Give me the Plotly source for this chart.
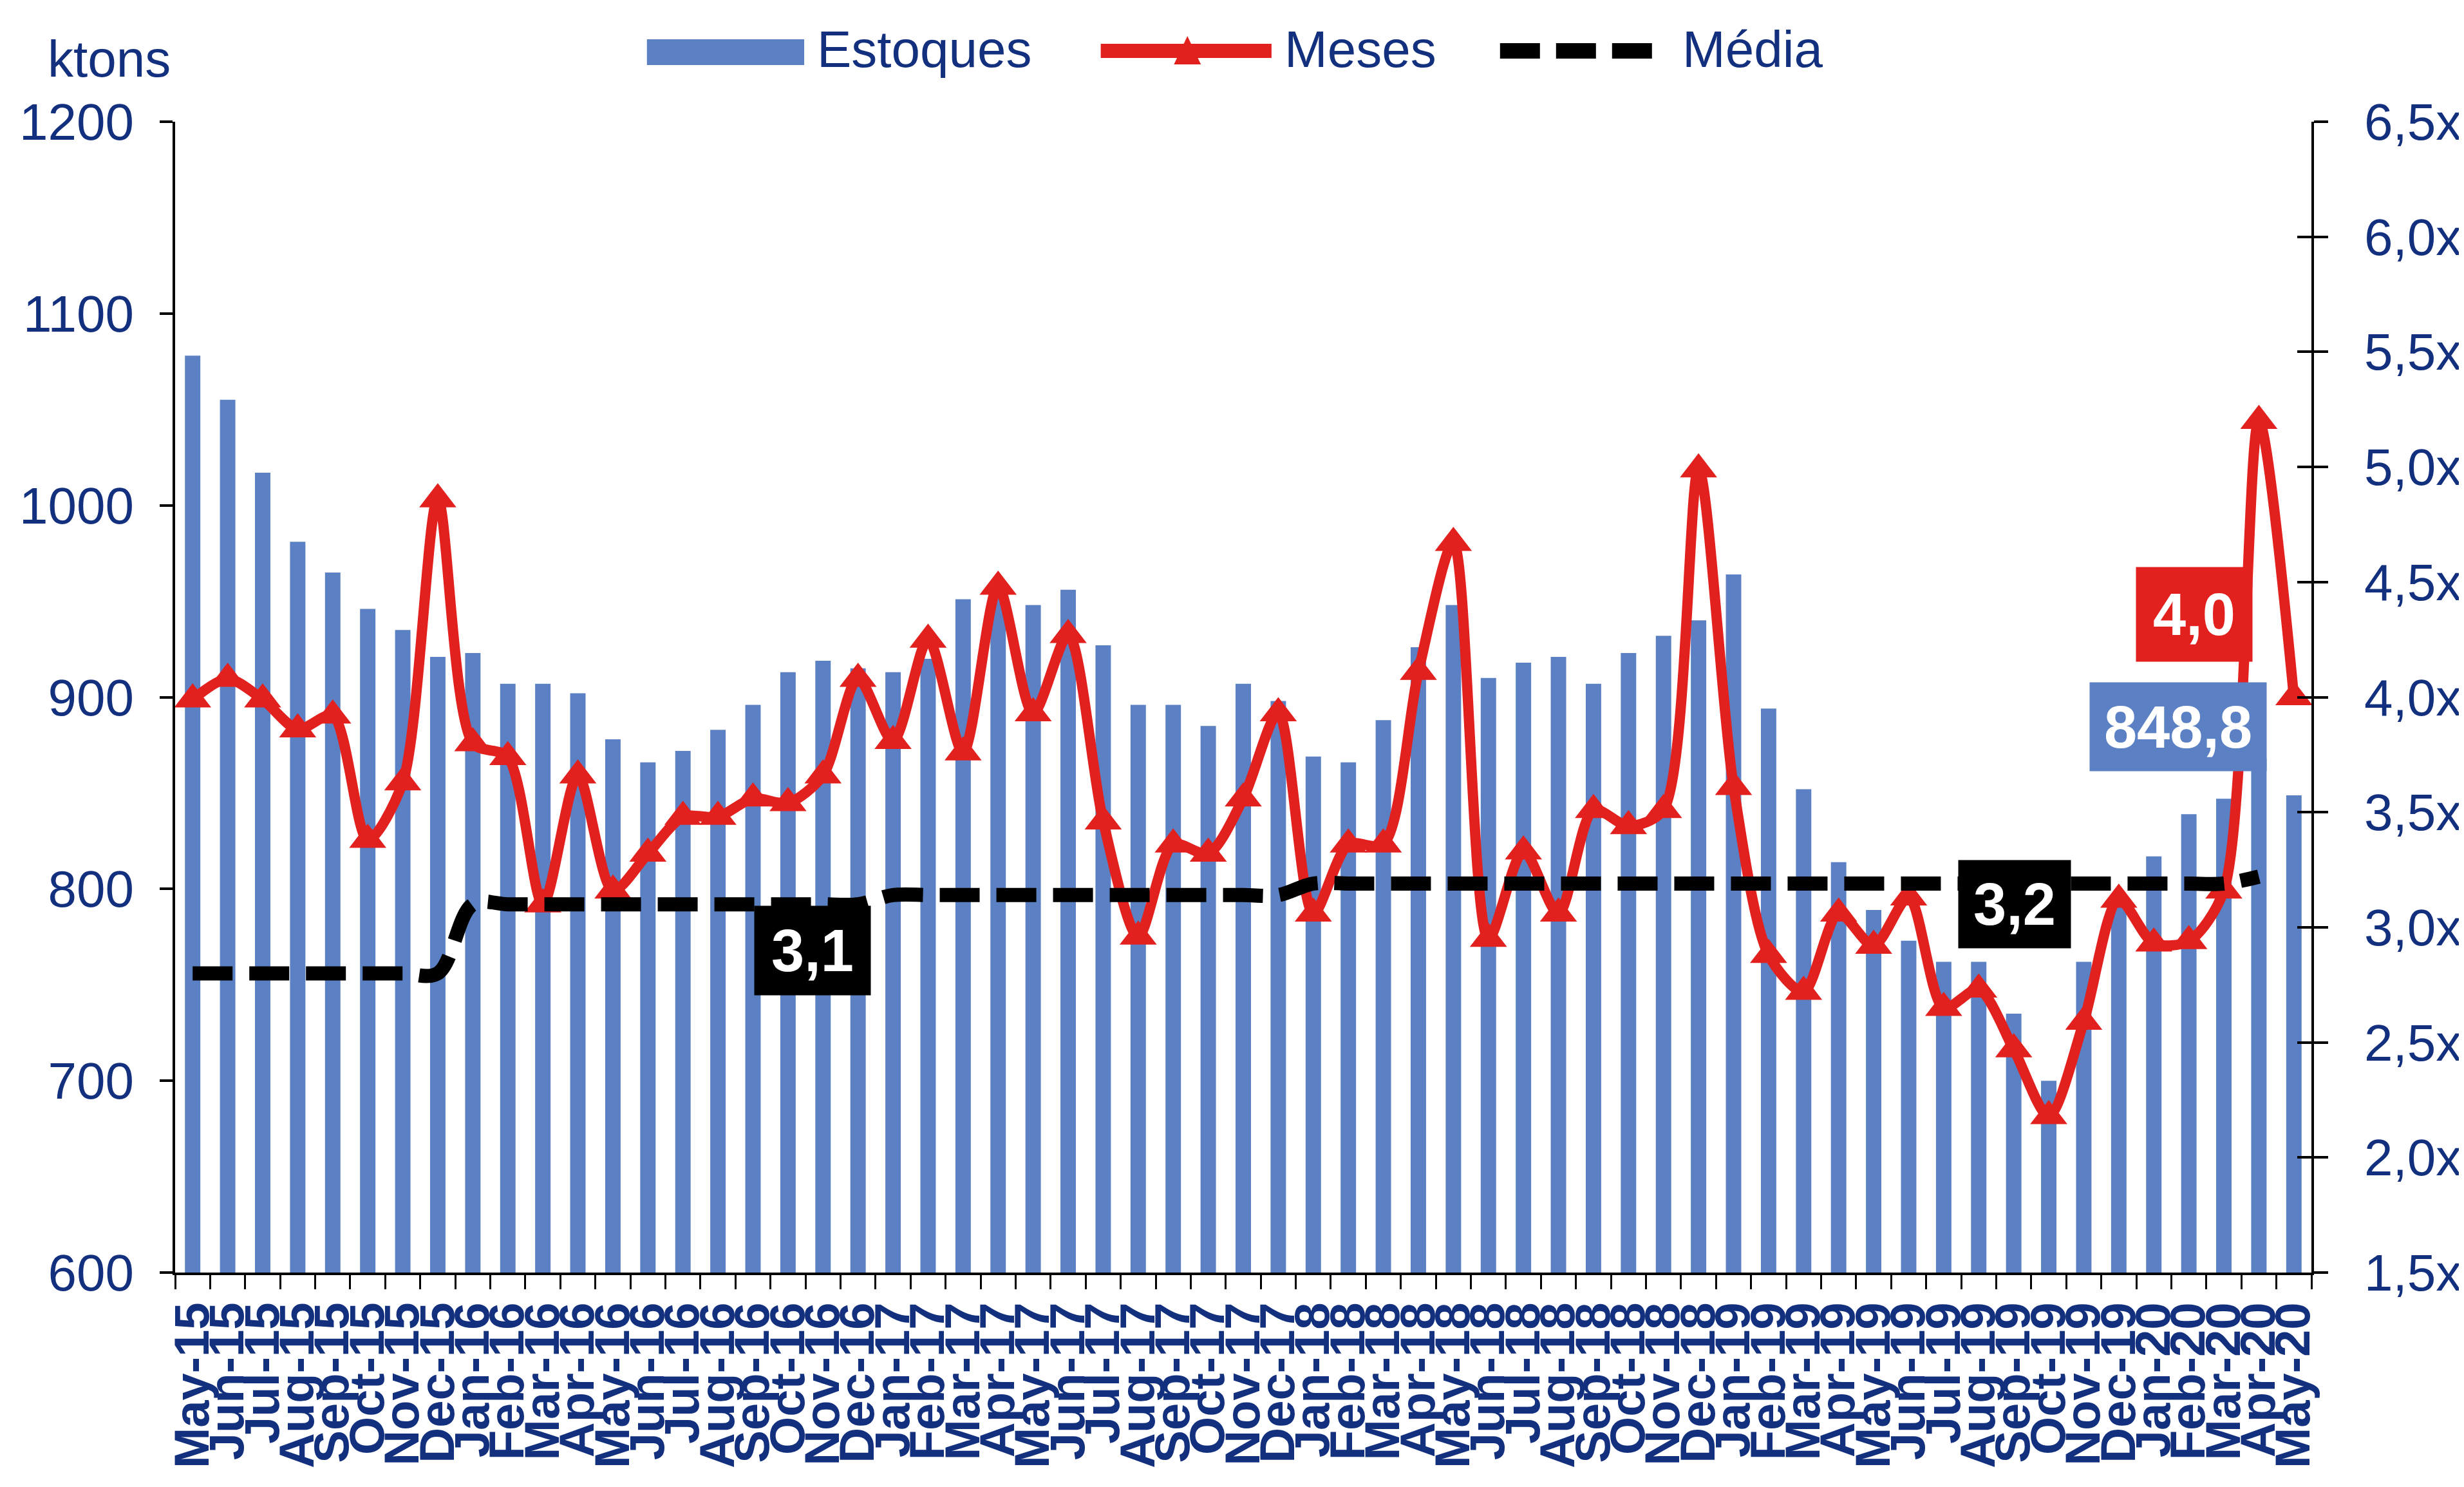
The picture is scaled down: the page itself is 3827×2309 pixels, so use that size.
import plotly.graph_objects as go

# categorias (meses)
months = ["May-15", "Jun-15", "Jul-15", "Aug-15", "Sep-15", "Oct-15", "Nov-15", "Dec-15",
          "Jan-16", "Feb-16", "Mar-16", "Apr-16", "May-16", "Jun-16", "Jul-16", "Aug-16",
          "Sep-16", "Oct-16", "Nov-16", "Dec-16", "Jan-17", "Feb-17", "Mar-17", "Apr-17",
          "May-17", "Jun-17", "Jul-17", "Aug-17", "Sep-17", "Oct-17", "Nov-17", "Dec-17",
          "Jan-18", "Feb-18", "Mar-18", "Apr-18", "May-18", "Jun-18", "Jul-18", "Aug-18",
          "Sep-18", "Oct-18", "Nov-18", "Dec-18", "Jan-19", "Feb-19", "Mar-19", "Apr-19",
          "May-19", "Jun-19", "Jul-19", "Aug-19", "Sep-19", "Oct-19", "Nov-19", "Dec-19",
          "Jan-20", "Feb-20", "Mar-20", "Apr-20", "May-20"]

# estoques (ktons) - eixo esquerdo
estoques = [1078, 1055, 1017, 981, 965, 946, 935, 921, 923, 907, 907, 902, 878, 866, 872, 883,
            896, 913, 919, 915, 913, 920, 951, 952, 948, 956, 927, 896, 896, 885, 907, 898,
            869, 866, 888, 926, 948, 910, 918, 921, 907, 923, 932, 940, 964, 894, 852, 814,
            789, 773, 762, 762, 735, 700, 762, 796, 817, 839, 847, 868, 848.8]

# meses de estoque - eixo direito
meses = [3.99, 4.08, 3.99, 3.86, 3.92, 3.38, 3.63, 4.86, 3.80, 3.74, 3.10, 3.66, 3.16, 3.32, 3.48, 3.48,
         3.56, 3.54, 3.66, 4.08, 3.81, 4.25, 3.76, 4.48, 3.93, 4.27, 3.46, 2.96, 3.36, 3.32, 3.56, 3.93,
         3.06, 3.36, 3.36, 4.11, 4.67, 2.95, 3.33, 3.06, 3.51, 3.44, 3.51, 4.99, 3.61, 2.88, 2.72, 3.06,
         2.92, 3.13, 2.65, 2.73, 2.47, 2.18, 2.59, 3.12, 2.93, 2.94, 3.16, 5.20, 4.00]

# média (vai até Apr-20)
media = [2.8, 2.8, 2.8, 2.8, 2.8, 2.8, 2.8, 2.8, 3.1, 3.1, 3.1, 3.1, 3.1, 3.1, 3.1, 3.1,
         3.1, 3.1, 3.1, 3.1, 3.14, 3.14, 3.14, 3.14, 3.14, 3.14, 3.14, 3.14, 3.14, 3.14, 3.14, 3.14,
         3.19, 3.19, 3.19, 3.19, 3.19, 3.19, 3.19, 3.19, 3.19, 3.19, 3.19, 3.19, 3.19, 3.19, 3.19, 3.19,
         3.19, 3.19, 3.19, 3.19, 3.19, 3.19, 3.19, 3.19, 3.19, 3.19, 3.19, 3.22]

right_vals = [1.5, 2.0, 2.5, 3.0, 3.5, 4.0, 4.5, 5.0, 5.5, 6.0, 6.5]
right_text = ["1,5x", "2,0x", "2,5x", "3,0x", "3,5x", "4,0x", "4,5x", "5,0x", "5,5x", "6,0x", "6,5x"]

BLUE = "#5B80C3"
RED = "#E2211F"
NAVY = "#13307F"
FONT = "Liberation Sans, Arial, sans-serif"

W, H = 3827, 2309
L, R, T, B = 264, 3592, 181, 1968


def px(x):
    # pixel -> paper (horizontal)
    return (x - L) / (R - L)


def py(y):
    # pixel -> paper (vertical)
    return (B - y) / (B - T)


fig = go.Figure()
fig.add_trace(go.Bar(x=months, y=estoques, name="Estoques", marker_color=BLUE, marker_line_width=0))
fig.add_trace(go.Scatter(x=months, y=meses, name="Meses", yaxis="y2", mode="lines+markers",
                         line=dict(color=RED, width=16, shape="spline", smoothing=0.8),
                         marker=dict(symbol="triangle-up", size=50, color=RED)))
fig.add_trace(go.Scatter(x=months[:len(media)], y=media, name="Média", yaxis="y2", mode="lines",
                         line=dict(color="black", width=22, dash="62px,26px", shape="spline", smoothing=1)))
# eixo extra so para os ticks internos do eixo direito
fig.add_trace(go.Scatter(x=[None], y=[None], yaxis="y3", showlegend=False, hoverinfo="skip"))

# caixas de rotulos
boxes = [
    ("3,1", 17.70, 2.90, "black", 180, 138),
    ("3,2", 52.03, 3.10, "black", 174, 136),
    (f"{meses[-1]:.1f}".replace(".", ","), 57.16, 4.36, RED, 180, 146),
    (f"{estoques[-1]:.1f}".replace(".", ","), 56.70, 3.87, BLUE, 274, 137),
]
annotations = []
for txt, xi, yv, col, bw, bh in boxes:
    annotations.append(dict(text=f"<b>{txt}</b>", x=xi, y=yv, xref="x", yref="y2", showarrow=False,
                            bgcolor=col, width=bw, height=bh, borderpad=0, align="center",
                            font=dict(family=FONT, size=92, color="white")))

annotations.append(dict(text="ktons", x=px(161), y=py(84), xref="paper", yref="paper", showarrow=False,
                        xanchor="center", yanchor="middle", font=dict(family=FONT, size=80, color=NAVY)))

# legenda manual no topo
leg_y = 68
for txt, x0 in [("Estoques", 1262), ("Meses", 1990), ("Média", 2610)]:
    annotations.append(dict(text=txt, x=px(x0), y=py(leg_y), xref="paper", yref="paper", showarrow=False,
                            xanchor="left", yanchor="middle", font=dict(family=FONT, size=80, color=NAVY)))

shapes = [
    dict(type="rect", xref="paper", yref="paper", x0=px(999), x1=px(1244), y0=py(53), y1=py(93),
         fillcolor=BLUE, line_width=0),
    dict(type="line", xref="paper", yref="paper", x0=px(1706), x1=px(1972), y0=py(71), y1=py(71),
         line=dict(color=RED, width=22)),
    dict(type="path", xref="paper", yref="paper",
         path=f"M{px(1820)},{py(92)} L{px(1862)},{py(92)} L{px(1841)},{py(48)} Z",
         fillcolor=RED, line_width=0),
    dict(type="line", xref="paper", yref="paper", x0=px(2328), x1=px(2565), y0=py(71), y1=py(71),
         line=dict(color="black", width=24, dash="62px,25px")),
]

fig.update_layout(
    width=W, height=H,
    margin=dict(l=L, r=W - R, t=T, b=H - B),
    plot_bgcolor="white", paper_bgcolor="white",
    showlegend=False,
    bargap=0.56,
    font=dict(family=FONT, color=NAVY),
    xaxis=dict(type="category", range=[-0.5, 60.5], tickmode="linear", tick0=0, dtick=1,
               tickangle=-90, tickson="boundaries",
               ticks="outside", ticklen=22, tickwidth=3, tickcolor="black",
               showline=True, linecolor="black", linewidth=4, showgrid=False,
               tickfont=dict(family=FONT, size=76, color=NAVY, weight="bold"), ticklabelstandoff=12),
    yaxis=dict(range=[600, 1200], dtick=100, ticks="outside", ticklen=20, tickwidth=4, tickcolor="black",
               showline=True, linecolor="black", linewidth=4, showgrid=False, zeroline=False,
               tickfont=dict(family=FONT, size=80, color=NAVY), ticklabelstandoff=24),
    yaxis2=dict(overlaying="y", side="right", range=[1.5, 6.5], tickvals=right_vals, ticktext=right_text,
                ticks="outside", ticklen=22, tickwidth=4, tickcolor="black",
                showline=True, linecolor="black", linewidth=4, showgrid=False, zeroline=False,
                tickfont=dict(family=FONT, size=80, color=NAVY), ticklabelstandoff=40),
    yaxis3=dict(overlaying="y", side="right", range=[1.5, 6.5], tickvals=right_vals,
                ticks="inside", ticklen=22, tickwidth=4, tickcolor="black",
                showline=False, showgrid=False, zeroline=False, showticklabels=False),
    annotations=annotations,
    shapes=shapes,
)

fig.write_html("out.html")
